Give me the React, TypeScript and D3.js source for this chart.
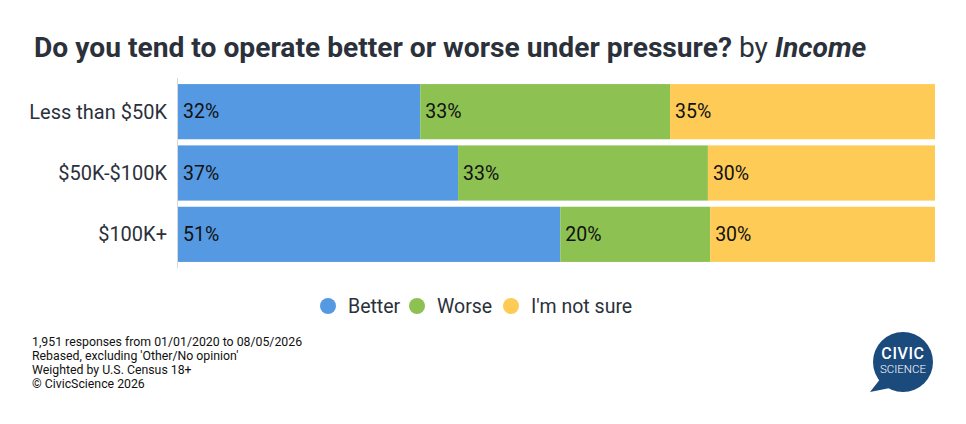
import { useRef, useEffect } from "react";
import * as d3 from "d3";

const categories = ["Less than $50K", "$50K-$100K", "$100K+"];
const seriesNames = ["Better", "Worse", "I'm not sure"];
const betterValues = [32, 37, 51];
const worseValues = [33, 33, 20];
const notSureValues = [35, 30, 30];
const seriesColors = ["#5699e3", "#8dc152", "#fecb57"];
const footnotes = [
  "1,951 responses from 01/01/2020 to 08/05/2026",
  "Rebased, excluding 'Other/No opinion'",
  "Weighted by U.S. Census 18+",
  "\u00a9 CivicScience 2026",
];

const W = 966;
const H = 424;
const FONT = "Roboto, 'Noto Sans', sans-serif";

export default function App() {
  const svgRef = useRef<SVGSVGElement>(null);

  useEffect(() => {
    if (!svgRef.current) return;
    const svg = d3.select(svgRef.current);
    svg.selectAll("*").remove();

    svg.append("rect").attr("width", W).attr("height", H).attr("fill", "#fff");

    // Title
    const title = svg
      .append("text")
      .attr("x", 34)
      .attr("y", 57)
      .attr("fill", "#2b313b")
      .attr("font-family", FONT)
      .attr("font-size", 28.2);
    title.append("tspan").attr("font-weight", 700).text("Do you tend to operate better or worse under pressure?");
    title.append("tspan").attr("font-weight", 400).text(" by ");
    title.append("tspan").attr("font-weight", 700).attr("font-style", "italic").text("Income");

    const rows = categories.map((c, i) => ({
      category: c,
      Better: betterValues[i],
      Worse: worseValues[i],
      "I'm not sure": notSureValues[i],
    }));

    // values are rebased to 100% per row
    const stack = d3.stack<any>().keys(seriesNames).offset(d3.stackOffsetExpand);
    const series = stack(rows);

    const x = d3.scaleLinear().domain([0, 1]).range([178, 935]);
    const y = d3
      .scaleBand()
      .domain(categories)
      .range([81, 265])
      .paddingInner(0.1)
      .paddingOuter(0.05);
    const color = d3.scaleOrdinal<string>().domain(seriesNames).range(seriesColors);

    // Axis line
    svg
      .append("line")
      .attr("x1", 177.5)
      .attr("x2", 177.5)
      .attr("y1", 78)
      .attr("y2", 268)
      .attr("stroke", "#d8d8d8")
      .attr("stroke-width", 1);

    // Category labels
    svg
      .append("g")
      .selectAll("text")
      .data(categories)
      .join("text")
      .attr("x", 167)
      .attr("y", (d) => (y(d) as number) + y.bandwidth() / 2)
      .attr("dy", "0.35em")
      .attr("text-anchor", "end")
      .attr("fill", "#2b313b")
      .attr("font-family", FONT)
      .attr("font-size", 20)
      .text((d) => d);

    // Bars
    const groups = svg
      .append("g")
      .selectAll("g")
      .data(series)
      .join("g")
      .attr("fill", (d) => color(d.key));

    groups
      .selectAll("rect")
      .data((d) => d)
      .join("rect")
      .attr("x", (d) => x(d[0]))
      .attr("y", (d) => y(d.data.category) as number)
      .attr("width", (d) => x(d[1]) - x(d[0]))
      .attr("height", y.bandwidth());

    // Value labels
    groups
      .selectAll("text")
      .data((d) => d.map((p) => ({ p, key: d.key })))
      .join("text")
      .attr("x", (d) => x(d.p[0]) + 5)
      .attr("y", (d) => (y(d.p.data.category) as number) + y.bandwidth() / 2)
      .attr("dy", "0.35em")
      .attr("fill", "#111")
      .attr("font-family", FONT)
      .attr("font-size", 19.5)
      .text((d) => `${d.p.data[d.key]}%`);

    // Legend
    const legendX = [328, 417, 511];
    const legend = svg
      .append("g")
      .selectAll("g")
      .data(seriesNames)
      .join("g")
      .attr("transform", (_d, i) => `translate(${legendX[i]}, 306)`);
    legend.append("circle").attr("r", 8).attr("fill", (d) => color(d));
    legend
      .append("text")
      .attr("x", 20)
      .attr("dy", "0.35em")
      .attr("fill", "#2b313b")
      .attr("font-family", FONT)
      .attr("font-size", 19.5)
      .text((d) => d);

    // Footnotes
    svg
      .append("g")
      .selectAll("text")
      .data(footnotes)
      .join("text")
      .attr("x", 32)
      .attr("y", (_d, i) => 346 + i * 14)
      .attr("fill", "#111")
      .attr("font-family", FONT)
      .attr("font-size", 12.3)
      .text((d) => d);

    // Logo
    const logo = svg.append("g").attr("transform", "translate(903, 362)");
    logo.append("circle").attr("r", 30).attr("fill", "#1b4a7d");
    logo.append("path").attr("d", "M-22,16 L-33,30 L-8,25 Z").attr("fill", "#1b4a7d");
    logo
      .append("text")
      .attr("y", -3)
      .attr("text-anchor", "middle")
      .attr("fill", "#fff")
      .attr("font-family", FONT)
      .attr("font-weight", 500)
      .attr("font-size", 16)
      .attr("letter-spacing", 0.6)
      .text("CIVIC");
    logo
      .append("text")
      .attr("y", 11)
      .attr("text-anchor", "middle")
      .attr("fill", "#fff")
      .attr("font-family", FONT)
      .attr("font-weight", 300)
      .attr("font-size", 11.5)
      .text("SCIENCE");
  }, []);

  return <svg ref={svgRef} width={W} height={H} style={{ display: "block", margin: -8 }} />;
}
